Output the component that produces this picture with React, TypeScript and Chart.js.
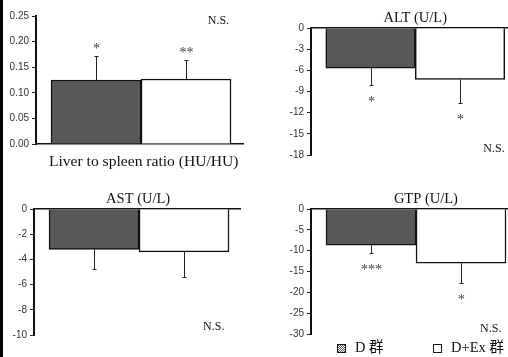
import React, { useEffect, useRef } from 'react';
import { Chart, registerables } from 'chart.js';

Chart.register(...registerables);

// ---------- data ----------
const groups = ['D 群', 'D+Ex 群'];
const groupPositions = [0, 1];

const liverValues = [0.125, 0.127];
const liverErrors = [0.047, 0.038];
const liverMarks = ['*', '**'];
const liverTicks = [0, 0.05, 0.1, 0.15, 0.2, 0.25];

const altValues = [-5.7, -7.3];
const altErrors = [2.4, 3.4];
const altMarks = ['*', '*'];
const altTicks = [0, -3, -6, -9, -12, -15, -18];

const astValues = [-3.2, -3.4];
const astErrors = [1.6, 2.0];
const astMarks = ['', ''];
const astTicks = [0, -2, -4, -6, -8, -10];

const gtpValues = [-8.7, -13.0];
const gtpErrors = [1.9, 4.8];
const gtpMarks = ['***', '*'];
const gtpTicks = [0, -5, -10, -15, -20, -25, -30];

const nsText = 'N.S.';

// ---------- styles ----------
const SERIF = '"Liberation Serif", "Noto Sans CJK JP", serif';
const SANS = '"Liberation Sans", Arial, sans-serif';
const barColors = ['#585858', '#ffffff'];

type Panel = {
  title: string;
  values: number[];
  errors: number[];
  marks: string[];
  ticks: number[];
  decimals: number;
  left: number;
  top: number;
  w: number;
  h: number;
  yAxisWidth: number;
  xAxisHeight: number;
  xPos: 'top' | 'bottom';
  padTop: number;
  padRight: number;
  padBottom: number;
  xMin: number;
  xMax: number;
  titleX: number;
  titleDy: number;
  titleSize: number;
  nsX: number;
  nsFromTop: boolean;
  nsDy: number;
  legend: boolean;
};

const panels: Panel[] = [
  {
    title: 'Liver to spleen ratio (HU/HU)', values: liverValues, errors: liverErrors, marks: liverMarks,
    ticks: liverTicks, decimals: 2, left: 0, top: 0, w: 254, h: 180,
    yAxisWidth: 36, xAxisHeight: 36, xPos: 'bottom', padTop: 16, padRight: 11, padBottom: 0,
    xMin: -0.667, xMax: 1.633, titleX: 0.53, titleDy: 18, titleSize: 15.6,
    nsX: 1.36, nsFromTop: true, nsDy: 5, legend: false,
  },
  {
    title: 'ALT (U/L)', values: altValues, errors: altErrors, marks: altMarks,
    ticks: altTicks, decimals: 0, left: 254, top: 0, w: 254, h: 180,
    yAxisWidth: 57, xAxisHeight: 28, xPos: 'top', padTop: 0, padRight: 1, padBottom: 25,
    xMin: -0.665, xMax: 1.525, titleX: 0.5, titleDy: -10, titleSize: 14.5,
    nsX: 1.38, nsFromTop: false, nsDy: -6, legend: false,
  },
  {
    title: 'AST (U/L)', values: astValues, errors: astErrors, marks: astMarks,
    ticks: astTicks, decimals: 0, left: 0, top: 180, w: 254, h: 177,
    yAxisWidth: 34, xAxisHeight: 29, xPos: 'top', padTop: 0, padRight: 14, padBottom: 22,
    xMin: -0.667, xMax: 1.622, titleX: 0.49, titleDy: -10, titleSize: 14.5,
    nsX: 1.33, nsFromTop: false, nsDy: -8, legend: false,
  },
  {
    title: 'GTP (U/L)', values: gtpValues, errors: gtpErrors, marks: gtpMarks,
    ticks: gtpTicks, decimals: 0, left: 254, top: 180, w: 254, h: 177,
    yAxisWidth: 57, xAxisHeight: 29, xPos: 'top', padTop: 0, padRight: 1, padBottom: 23,
    xMin: -0.667, xMax: 1.511, titleX: 0.61, titleDy: -10, titleSize: 14.5,
    nsX: 1.33, nsFromTop: false, nsDy: -5, legend: true,
  },
];

const legendBoxX = [83, 179];
const legendY = 168;

function makeOverlay(p: Panel) {
  return {
    id: 'overlay',
    afterDatasetsDraw(chart: any) {
      const ctx = chart.ctx as CanvasRenderingContext2D;
      const xs = chart.scales.x;
      const ys = chart.scales.y;
      const area = chart.chartArea;
      ctx.save();
      // error bars + significance marks
      p.values.forEach((v, i) => {
        const bar = chart.getDatasetMeta(i).data[0];
        const x = Math.round(bar.x) + 0.5;
        const sign = v < 0 ? -1 : 1;
        const y0 = ys.getPixelForValue(v);
        const y1 = Math.round(ys.getPixelForValue(v + sign * p.errors[i])) + 0.5;
        ctx.strokeStyle = '#222';
        ctx.lineWidth = 1;
        ctx.beginPath();
        ctx.moveTo(x, y0);
        ctx.lineTo(x, y1);
        ctx.moveTo(x - 2, y1);
        ctx.lineTo(x + 2, y1);
        ctx.stroke();
        if (p.marks[i]) {
          ctx.font = `14px ${SERIF}`;
          ctx.fillStyle = '#444';
          ctx.textAlign = 'center';
          ctx.textBaseline = 'alphabetic';
          ctx.fillText(p.marks[i], x, sign < 0 ? y1 + 20 : y1 - 4);
        }
      });
      // title
      ctx.font = `${p.titleSize}px ${SERIF}`;
      ctx.fillStyle = '#111';
      ctx.textAlign = 'center';
      ctx.textBaseline = 'middle';
      const ty = p.xPos === 'bottom' ? area.bottom + p.titleDy : area.top + p.titleDy;
      ctx.fillText(p.title, xs.getPixelForValue(p.titleX), ty);
      // N.S.
      ctx.font = `12px ${SERIF}`;
      const ny = p.nsFromTop ? area.top + p.nsDy : area.bottom + p.nsDy;
      ctx.fillText(nsText, xs.getPixelForValue(p.nsX), ny);
      // legend
      if (p.legend) {
        chart.data.datasets.forEach((ds: any, i: number) => {
          const bx = legendBoxX[i] + 0.5;
          const by = legendY - 4 + 0.5;
          const s = 8;
          ctx.fillStyle = '#fff';
          ctx.fillRect(bx, by, s, s);
          if (i === 0) {
            ctx.save();
            ctx.beginPath();
            ctx.rect(bx, by, s, s);
            ctx.clip();
            ctx.strokeStyle = '#333';
            ctx.lineWidth = 0.8;
            for (let k = -s; k <= s; k += 2) {
              ctx.beginPath();
              ctx.moveTo(bx + k, by);
              ctx.lineTo(bx + k + s, by + s);
              ctx.stroke();
            }
            ctx.restore();
          }
          ctx.strokeStyle = '#111';
          ctx.lineWidth = 1;
          ctx.strokeRect(bx, by, s, s);
          ctx.font = `14.5px ${SERIF}`;
          ctx.fillStyle = '#111';
          ctx.textAlign = 'left';
          ctx.textBaseline = 'middle';
          ctx.fillText(ds.label, legendBoxX[i] + 18, legendY);
        });
      }
      ctx.restore();
    },
  };
}

function ChartPanel({ p }: { p: Panel }) {
  const ref = useRef<HTMLCanvasElement>(null);
  useEffect(() => {
    const canvas = ref.current;
    if (!canvas) return;
    const yMin = Math.min(...p.ticks);
    const yMax = Math.max(...p.ticks);
    const chart = new Chart(canvas, {
      type: 'bar',
      data: {
        datasets: groups.map((g, i) => ({
          label: g,
          data: [{ x: groupPositions[i], y: p.values[i] }],
          backgroundColor: barColors[i],
          borderColor: '#111',
          borderWidth: 1.5,
          grouped: false,
          barPercentage: 1,
          categoryPercentage: 1,
        })),
      } as any,
      options: {
        animation: false,
        responsive: false,
        maintainAspectRatio: false,
        devicePixelRatio: 1,
        layout: { padding: { left: 0, right: p.padRight, top: p.padTop, bottom: p.padBottom } },
        plugins: { legend: { display: false }, tooltip: { enabled: false }, title: { display: false } },
        scales: {
          x: {
            type: 'linear',
            position: p.xPos,
            offset: false,
            min: p.xMin,
            max: p.xMax,
            afterBuildTicks: (s: any) => { s.ticks = groupPositions.map((v) => ({ value: v })); },
            afterFit: (s: any) => { s.height = p.xAxisHeight; },
            ticks: { display: false },
            grid: { display: false },
            border: { display: true, color: '#111', width: 1.5 },
          },
          y: {
            type: 'linear',
            min: yMin,
            max: yMax,
            afterBuildTicks: (s: any) => { s.ticks = p.ticks.map((v) => ({ value: v })); },
            afterFit: (s: any) => { s.width = p.yAxisWidth; },
            ticks: {
              callback: (v: any) => Number(v).toFixed(p.decimals),
              font: { family: SANS, size: 10 },
              color: '#333',
              padding: 3,
            },
            grid: { drawOnChartArea: false, drawTicks: true, tickLength: 4, color: '#222', lineWidth: 1 },
            border: { display: true, color: '#111', width: 2 },
          },
        },
      } as any,
      plugins: [makeOverlay(p)],
    });
    return () => chart.destroy();
  }, [p]);
  return (
    <canvas
      ref={ref}
      width={p.w}
      height={p.h}
      style={{ position: 'absolute', left: p.left, top: p.top, width: p.w, height: p.h, display: 'block' }}
    />
  );
}

export default function App() {
  return (
    <div style={{ position: 'absolute', left: 0, top: 0, width: 508, height: 357, background: '#fff', overflow: 'hidden' }}>
      {panels.map((p, i) => (
        <ChartPanel key={i} p={p} />
      ))}
      <div style={{ position: 'absolute', left: 0, top: 0, width: 3, height: 357, background: '#000' }} />
    </div>
  );
}
